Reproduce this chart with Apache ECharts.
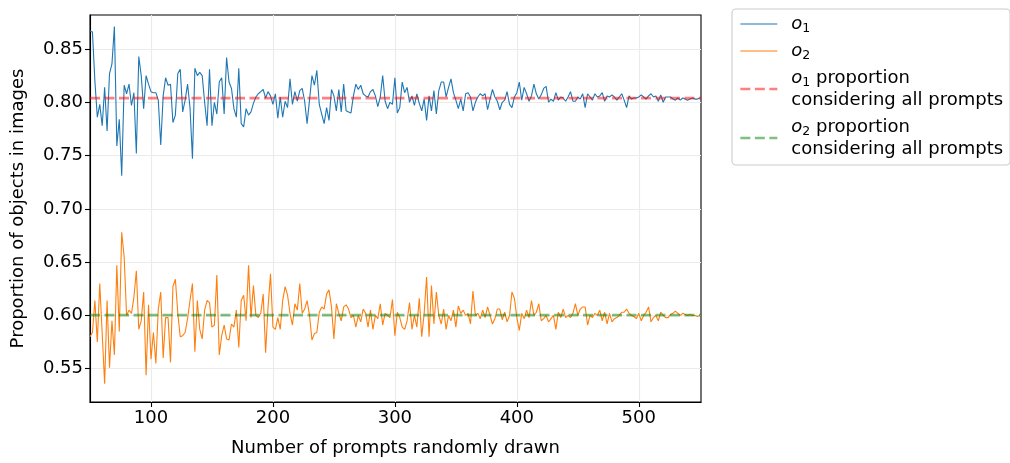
<!DOCTYPE html>
<html>
<head>
<meta charset="utf-8">
<script src="https://cdn.jsdelivr.net/npm/echarts@6/dist/echarts.min.js"></script>
<style>
  html, body { margin: 0; padding: 0; background: #ffffff; }
  #chart { width: 1010px; height: 463px; }
</style>
</head>
<body>
<div id="chart"></div>
<script>
// Number of prompts drawn at each sample
const promptCounts = [
  50,52,54,56,58,60,62,64,66,68,70,72,74,76,78,80,82,84,86,88,90,92,94,96,98,
  100,102,104,106,108,110,112,114,116,118,120,122,124,126,128,130,132,134,136,138,140,142,144,146,148,
  150,152,154,156,158,160,162,164,166,168,170,172,174,176,178,180,182,184,186,188,190,192,194,196,198,
  200,202,204,206,208,210,212,214,216,218,220,222,224,226,228,230,232,234,236,238,240,242,244,246,248,
  250,252,254,256,258,260,262,264,266,268,270,272,274,276,278,280,282,284,286,288,290,292,294,296,298,
  300,302,304,306,308,310,312,314,316,318,320,322,324,326,328,330,332,334,336,338,340,342,344,346,348,
  350,352,354,356,358,360,362,364,366,368,370,372,374,376,378,380,382,384,386,388,390,392,394,396,398,
  400,402,404,406,408,410,412,414,416,418,420,422,424,426,428,430,432,434,436,438,440,442,444,446,448,
  450,452,454,456,458,460,462,464,466,468,470,472,474,476,478,480,482,484,486,488,490,492,494,496,498,
  500,502,504,506,508,510,512,514,516,518,520,522,524,526,528,530,532,534,536,538,540,542,544,546,548,
  550
];

// Proportion of images containing object o1
const o1Share = [
  0.867,0.866,0.820,0.786,0.798,0.778,0.814,0.773,0.827,0.836,
  0.871,0.759,0.784,0.731,0.816,0.808,0.817,0.797,0.809,0.752,
  0.843,0.825,0.794,0.825,0.817,0.810,0.809,0.809,0.802,0.760,
  0.806,0.823,0.816,0.817,0.781,0.788,0.827,0.831,0.791,0.802,
  0.817,0.795,0.747,0.832,0.825,0.828,0.825,0.800,0.778,0.831,
  0.778,
  0.800,0.789,0.819,0.823,0.789,0.842,0.819,0.813,0.794,0.786,
  0.832,0.780,0.777,0.794,0.788,0.791,0.799,0.805,0.808,0.810,
  0.812,0.804,0.810,0.806,0.798,0.808,0.785,0.805,0.786,0.801,
  0.795,0.822,0.798,0.810,0.801,0.811,0.813,0.801,0.780,0.802,
  0.825,0.816,0.830,0.798,0.789,0.780,0.795,0.783,0.812,0.806,
  0.792,0.812,0.791,0.817,0.792,0.791,0.790,0.806,0.817,0.812,
  0.816,0.808,0.806,0.805,0.810,0.812,0.806,0.796,0.805,0.825,
  0.801,0.794,0.800,0.798,0.823,0.790,0.795,0.819,0.809,0.814,
  0.800,0.806,0.797,0.808,0.799,0.792,0.803,0.783,0.806,0.792,
  0.811,0.789,0.811,0.819,0.819,0.805,0.814,0.822,0.809,0.802,
  0.794,0.803,0.792,0.808,0.809,0.805,0.792,0.800,0.805,0.808,
  0.806,0.808,0.793,0.803,0.812,0.805,0.801,0.793,0.800,0.802,
  0.810,0.798,0.795,0.805,0.809,0.819,0.802,0.814,0.808,0.801,
  0.806,0.817,0.808,0.803,0.807,0.813,0.815,0.800,0.803,0.801,
  0.809,0.802,0.805,0.804,0.801,0.805,0.810,0.801,0.801,0.805,
  0.803,0.808,0.795,0.808,0.805,0.802,0.808,0.805,0.806,0.809,
  0.801,0.806,0.805,0.807,0.805,0.802,0.805,0.808,0.802,0.795,
  0.806,0.803,0.804,0.804,0.805,0.807,0.805,0.803,0.806,0.808,
  0.805,0.806,0.801,0.807,0.800,0.805,0.805,0.805,0.803,0.802,
  0.804,0.802,0.804,0.803,0.802,0.803,0.804,0.803,0.803,0.804
];

// Proportion of images containing object o2
const o2Share = [
  0.580,0.584,0.614,0.575,0.630,0.583,0.536,0.614,0.551,0.595,
  0.563,0.647,0.585,0.678,0.655,0.600,0.605,0.602,0.617,0.642,
  0.587,0.595,0.622,0.544,0.610,0.559,0.584,0.555,0.606,0.622,
  0.560,0.598,0.598,0.556,0.627,0.634,0.602,0.580,0.581,0.584,
  0.597,0.614,0.630,0.566,0.614,0.587,0.578,0.605,0.614,0.612,
  0.589,
  0.591,0.638,0.563,0.581,0.591,0.578,0.577,0.592,0.589,0.605,
  0.570,0.614,0.619,0.595,0.647,0.598,0.628,0.600,0.598,0.602,
  0.620,0.565,0.608,0.639,0.589,0.587,0.598,0.587,0.614,0.627,
  0.619,0.602,0.591,0.611,0.605,0.630,0.602,0.606,0.614,0.600,
  0.577,0.583,0.584,0.603,0.608,0.606,0.620,0.624,0.608,0.578,
  0.611,0.602,0.595,0.608,0.610,0.606,0.598,0.600,0.589,0.600,
  0.594,0.606,0.602,0.589,0.605,0.587,0.600,0.597,0.611,0.591,
  0.602,0.600,0.598,0.615,0.581,0.603,0.598,0.589,0.587,0.595,
  0.612,0.587,0.600,0.589,0.616,0.580,0.602,0.636,0.580,0.628,
  0.592,0.622,0.600,0.592,0.606,0.587,0.600,0.595,0.605,0.589,
  0.609,0.602,0.605,0.600,0.602,0.592,0.623,0.600,0.602,0.597,
  0.605,0.598,0.608,0.600,0.592,0.597,0.606,0.606,0.596,0.603,
  0.594,0.600,0.622,0.616,0.598,0.586,0.602,0.597,0.605,0.598,
  0.614,0.600,0.603,0.611,0.595,0.597,0.600,0.594,0.597,0.600,
  0.587,0.603,0.598,0.606,0.598,0.600,0.598,0.602,0.611,0.600,
  0.606,0.608,0.608,0.591,0.600,0.598,0.602,0.600,0.605,0.595,
  0.603,0.592,0.602,0.594,0.597,0.598,0.600,0.603,0.603,0.606,
  0.602,0.600,0.599,0.597,0.602,0.595,0.600,0.603,0.608,0.594,
  0.598,0.600,0.595,0.603,0.600,0.598,0.598,0.601,0.602,0.604,
  0.602,0.600,0.602,0.601,0.600,0.601,0.600,0.600,0.599,0.600
];

// Proportions over the full prompt set
const o1Overall = 0.804;
const o2Overall = 0.6003;

const xTicks = [100, 200, 300, 400, 500];
const yTicks = [0.55, 0.60, 0.65, 0.70, 0.75, 0.80, 0.85];

const xRange = [50, 551];
const yRange = [0.5188, 0.8819];

const FONT = 'DejaVu Sans';
const FS = 18;

const pairs = (xs, ys) => xs.map((x, i) => [x, ys[i]]);
const flat = (v) => [[xRange[0], v], [xRange[1], v]];

const chart = echarts.init(document.getElementById('chart'), null, { renderer: 'canvas' });

const richLegend = {
  it: { fontFamily: FONT, fontSize: FS, fontStyle: 'italic', color: '#000' },
  sub: { fontFamily: FONT, fontSize: 12.5, color: '#000', verticalAlign: 'bottom', padding: [9, 0, 0, 0] },
};

// legend entries: line sample only, no marker dot
const hiddenDot = { opacity: 0, color: 'rgba(0,0,0,0)', borderWidth: 0 };

chart.setOption({
  animation: false,
  backgroundColor: '#ffffff',
  textStyle: { fontFamily: FONT },
  grid: {
    left: 90, right: 309, top: 15, bottom: 61,
    show: true, borderColor: '#000', borderWidth: 1.1, backgroundColor: 'transparent'
  },
  xAxis: {
    type: 'value',
    min: xRange[0], max: xRange[1],
    name: 'Number of prompts randomly drawn',
    nameLocation: 'middle', nameGap: 37,
    nameTextStyle: { fontFamily: FONT, fontSize: FS, color: '#000' },
    axisLine: { show: true, lineStyle: { color: '#000', width: 1.1 } },
    axisTick: { show: true, length: 5, lineStyle: { color: '#000', width: 1.1 }, customValues: xTicks },
    axisLabel: { fontFamily: FONT, fontSize: FS, color: '#000', margin: 7, customValues: xTicks },
    splitLine: { show: true, lineStyle: { color: '#ebebeb', width: 1.1 } }
  },
  yAxis: {
    type: 'value',
    min: yRange[0], max: yRange[1],
    name: 'Proportion of objects in images',
    nameLocation: 'middle', nameGap: 63,
    nameTextStyle: { fontFamily: FONT, fontSize: FS, color: '#000' },
    axisLine: { show: true, lineStyle: { color: '#000', width: 1.1 } },
    axisTick: { show: true, length: 5, lineStyle: { color: '#000', width: 1.1 }, customValues: yTicks },
    axisLabel: {
      fontFamily: FONT, fontSize: FS, color: '#000', margin: 7, customValues: yTicks,
      formatter: (v) => v.toFixed(2)
    },
    splitLine: { show: true, lineStyle: { color: '#ebebeb', width: 1.1 } }
  },
  legend: {
    orient: 'vertical',
    left: 732, top: 9,
    padding: [4, 7, 5, 7],
    itemGap: 5,
    itemWidth: 37, itemHeight: 14,
    backgroundColor: 'rgba(255,255,255,0.8)',
    borderColor: '#cccccc', borderWidth: 1.1, borderRadius: 4,
    textStyle: { fontFamily: FONT, fontSize: FS, color: '#000', lineHeight: 22, padding: [0, 0, 0, 9], rich: richLegend },
    data: [
      { name: 'o1', lineStyle: { width: 1.2 }, itemStyle: hiddenDot },
      { name: 'o2', lineStyle: { width: 1.2 }, itemStyle: hiddenDot },
      { name: 'o1all', lineStyle: { width: 2.7 }, itemStyle: hiddenDot },
      { name: 'o2all', lineStyle: { width: 2.7 }, itemStyle: hiddenDot }
    ],
    formatter: (name) => ({
      o1: '{it|o}{sub|1}',
      o2: '{it|o}{sub|2}',
      o1all: '{it|o}{sub|1} proportion\nconsidering all prompts',
      o2all: '{it|o}{sub|2} proportion\nconsidering all prompts'
    })[name]
  },
  series: [
    {
      name: 'o1', type: 'line', data: pairs(promptCounts, o1Share),
      symbol: 'none', lineStyle: { color: '#1f77b4', width: 1.1 }, itemStyle: { color: '#1f77b4' }, z: 2
    },
    {
      name: 'o2', type: 'line', data: pairs(promptCounts, o2Share),
      symbol: 'none', lineStyle: { color: '#ff7f0e', width: 1.1 }, itemStyle: { color: '#ff7f0e' }, z: 3
    },
    {
      name: 'o1all', type: 'line', data: flat(o1Overall),
      symbol: 'none', lineStyle: { color: 'rgba(255,0,0,0.5)', width: 2.7, type: [10, 4.5] },
      itemStyle: { color: 'rgba(255,0,0,0.5)' }, z: 4
    },
    {
      name: 'o2all', type: 'line', data: flat(o2Overall),
      symbol: 'none', lineStyle: { color: 'rgba(0,128,0,0.5)', width: 2.7, type: [10, 4.5] },
      itemStyle: { color: 'rgba(0,128,0,0.5)' }, z: 5
    }
  ]
});
</script>
</body>
</html>
